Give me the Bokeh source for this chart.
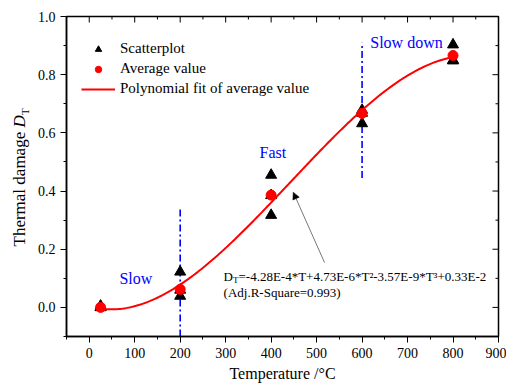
import numpy as np
from math import pi
from bokeh.plotting import figure
from bokeh.layouts import row
from bokeh.models import (FixedTicker, NumeralTickFormatter, Label, Arrow,
                          NormalHead, Legend, LegendItem, Range1d)
from bokeh.embed import file_html
from bokeh.resources import INLINE

# ---------------- data ----------------
scatter_T = [25, 25, 25, 200, 200, 200, 400, 400, 400, 600, 600, 600, 800, 800, 800]
scatter_D = [0.005, 0.0, 0.0, 0.122, 0.06, 0.039, 0.455, 0.385, 0.317, 0.678, 0.668, 0.632, 0.903, 0.85, 0.848]
avg_T = [25, 200, 400, 600, 800]
avg_D = [0.0, 0.062, 0.386, 0.667, 0.866]
fit_coef = [0.33e-2, -4.28e-4, 4.73e-6, -3.57e-9]   # as printed on the chart
fit_T_range = [25, 800]
guide_T = [200, 600]
guide_bottom = [-0.1, 0.445]
guide_top = [0.345, 0.91]
x_ticks = [0, 100, 200, 300, 400, 500, 600, 700, 800, 900]
x_minor = [-50, 50, 150, 250, 350, 450, 550, 650, 750, 850]
y_ticks = [0.0, 0.2, 0.4, 0.6, 0.8, 1.0]
y_minor = [-0.1, 0.1, 0.3, 0.5, 0.7, 0.9]
X0, X1, Y0, Y1 = -50, 900, -0.1, 1.0

FONT = "Liberation Serif"
W, H = 506, 385
B_TOP, B_BOTTOM = 16, 49
TW = 30  # width of the strip holding the rotated y-axis title

fit_T = np.linspace(fit_T_range[0], fit_T_range[1], 200)
fit_D = sum(c * fit_T ** i for i, c in enumerate(fit_coef))

p = figure(width=W - TW, height=H, x_range=Range1d(X0, X1), y_range=Range1d(Y0, Y1),
           output_backend="svg", toolbar_location=None,
           min_border_left=66 - TW, min_border_right=8,
           min_border_top=B_TOP, min_border_bottom=B_BOTTOM)
p.xgrid.visible = False
p.ygrid.visible = False
p.outline_line_color = "black"
p.outline_line_width = 1.5
p.background_fill_color = "white"

xt = FixedTicker(ticks=x_ticks, minor_ticks=x_minor)
yt = FixedTicker(ticks=y_ticks, minor_ticks=y_minor)

def style(ax):
    ax.axis_line_width = 1.5
    ax.axis_line_color = "black"
    ax.major_tick_line_color = "black"
    ax.minor_tick_line_color = "black"
    ax.major_tick_line_width = 1
    ax.minor_tick_line_width = 1
    ax.major_tick_in, ax.major_tick_out = 0, 6
    ax.minor_tick_in, ax.minor_tick_out = 0, 3
    ax.major_label_text_font = FONT
    ax.major_label_text_font_size = "14px"
    ax.major_label_text_color = "black"
    ax.major_label_standoff = 5

xa = p.xaxis[0]
xa.ticker = xt
style(xa)
xa.axis_label = "Temperature /°C"
xa.axis_label_text_font = FONT
xa.axis_label_text_font_size = "16px"
xa.axis_label_text_font_style = "normal"
xa.axis_label_text_color = "black"
xa.axis_label_standoff = 4

ya = p.yaxis[0]
ya.ticker = yt
style(ya)
ya.formatter = NumeralTickFormatter(format="0.0")

# inward ticks on the top and right frame edges (lengths in data units ~6px / 3px)
tx_major, tx_minor = 0.0206, 0.0103
ty_major, ty_minor = 13.2, 6.6
p.segment(x0=x_ticks, y0=[Y1] * len(x_ticks), x1=x_ticks, y1=[Y1 - tx_major] * len(x_ticks),
          line_color="black", line_width=1)
p.segment(x0=x_minor, y0=[Y1] * len(x_minor), x1=x_minor, y1=[Y1 - tx_minor] * len(x_minor),
          line_color="black", line_width=1)
p.segment(x0=[X1] * len(y_ticks), y0=y_ticks, x1=[X1 - ty_major] * len(y_ticks), y1=y_ticks,
          line_color="black", line_width=1)
p.segment(x0=[X1] * len(y_minor), y0=y_minor, x1=[X1 - ty_minor] * len(y_minor), y1=y_minor,
          line_color="black", line_width=1)

# guides
p.segment(x0=guide_T, y0=guide_bottom, x1=guide_T, y1=guide_top,
          line_color="#0000ff", line_width=1.6, line_dash="7 3 2 3")

r_tri = p.scatter(scatter_T, scatter_D, marker="triangle", size=11, color="black")
r_fit = p.line(fit_T, fit_D, line_color="#ff0000", line_width=2)
r_avg = p.scatter(avg_T, avg_D, marker="circle", size=10, color="#ff0000")

legend = Legend(items=[LegendItem(label="Scatterplot", renderers=[r_tri]),
                       LegendItem(label="Average value", renderers=[r_avg]),
                       LegendItem(label="Polynomial fit of average value", renderers=[r_fit])],
                location=(15, 239), padding=0, margin=0, spacing=3,
                glyph_width=34, glyph_height=16, label_height=16, label_standoff=5,
                label_text_font=FONT, label_text_font_size="15px", label_text_color="black",
                background_fill_alpha=0, border_line_color=None)
p.add_layout(legend)

# text annotations
for txt, x, y in [("Slow", 102.6, 0.10), ("Fast", 404, 0.534), ("Slow down", 697.6, 0.911)]:
    p.add_layout(Label(x=x, y=y, text=txt, text_font=FONT, text_font_size="16px",
                       text_color="#0000ff", text_align="center", text_baseline="middle"))

eq_x, eq_y1, eq_y2 = 295.4, 0.106, 0.051
p.add_layout(Label(x=eq_x, y=eq_y1, text="D", text_font=FONT, text_font_size="13px",
                   text_color="black", text_align="left", text_baseline="middle"))
p.add_layout(Label(x=eq_x, y=eq_y1, x_offset=9.4, y_offset=-3.5, text="T", text_font=FONT,
                   text_font_size="9px", text_color="black", text_align="left",
                   text_baseline="middle"))
p.add_layout(Label(x=eq_x, y=eq_y1, x_offset=14.9,
                   text="=-4.28E-4*T+4.73E-6*T²-3.57E-9*T³+0.33E-2", text_font=FONT,
                   text_font_size="13px", text_color="black", text_align="left",
                   text_baseline="middle"))
p.add_layout(Label(x=eq_x, y=eq_y2, text="(Adj.R-Square=0.993)", text_font=FONT,
                   text_font_size="13px", text_color="black", text_align="left",
                   text_baseline="middle"))

p.add_layout(Arrow(x_start=517.5, y_start=0.154, x_end=448.6, y_end=0.396,
                   line_color="#555555", line_width=0.8,
                   end=NormalHead(size=7, fill_color="black", line_color="black", line_width=0.5)))

# ---- narrow strip on the left carrying the rotated y-axis title ----
# its frame is aligned with the main frame by the row layout, so its y range is given in
# pixels measured from the bottom of the canvas over that same span
t = figure(width=TW, height=H, x_range=Range1d(0, TW), y_range=Range1d(B_BOTTOM, H - B_TOP),
           output_backend="svg", toolbar_location=None, x_axis_type=None, y_axis_type=None,
           min_border=0)
t.outline_line_color = None
t.xgrid.visible = False
t.ygrid.visible = False
yx = 19
yb = 139
t.add_layout(Label(x=yx, y=yb, angle=pi / 2,
                   text="Thermal damage ", text_font=FONT, text_font_size="17px",
                   text_color="black", text_align="left", text_baseline="middle"))
t.add_layout(Label(x=yx, y=yb + 119, angle=pi / 2,
                   text="D", text_font=FONT, text_font_size="17px", text_font_style="italic",
                   text_color="black", text_align="left", text_baseline="middle"))
t.add_layout(Label(x=yx + 5, y=yb + 131.5, angle=pi / 2,
                   text="T", text_font=FONT, text_font_size="11px",
                   text_color="black", text_align="left", text_baseline="middle"))

layout = row(t, p, spacing=0)
open("out.html", "w").write(file_html(layout, INLINE))
